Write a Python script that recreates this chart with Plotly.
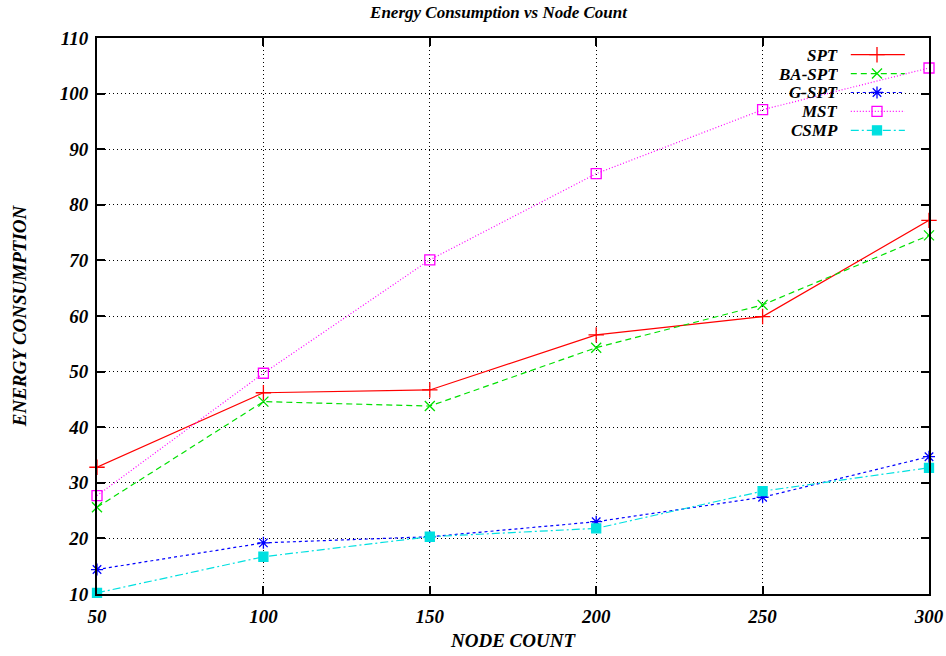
import plotly.graph_objects as go

node_count = [50, 100, 150, 200, 250, 300]
spt = [32.8, 46.2, 46.7, 56.6, 59.9, 77.2]
ba_spt = [25.6, 44.6, 43.8, 54.3, 62.0, 74.5]
g_spt = [14.4, 19.2, 20.3, 23.0, 27.4, 34.7]
mst = [27.7, 49.7, 70.1, 85.6, 97.1, 104.6]
csmp = [10.2, 16.7, 20.3, 21.8, 28.5, 32.7]

series_names = ["SPT", "BA-SPT", "G-SPT", "MST", "CSMP"]
series_values = [spt, ba_spt, g_spt, mst, csmp]
colors = ["#ff0000", "#00e000", "#0000ff", "#ff00ff", "#00e0e0"]
dashes = ["solid", "6px,4px", "3px,3px", "1px,2px", "8px,3px,2px,3px"]
symbols = ["cross-thin-open", "x-thin-open", "asterisk-open", "square-open", "square"]
msizes = [11, 10, 10, 10, 9]

x_ticks = [50, 100, 150, 200, 250, 300]
y_ticks = [10, 20, 30, 40, 50, 60, 70, 80, 90, 100, 110]

FONT = "Liberation Serif"

fig = go.Figure()
for name, vals, c, d, s, ms in zip(series_names, series_values, colors, dashes, symbols, msizes):
    fig.add_trace(go.Scatter(
        x=node_count, y=vals, name=name, mode="lines+markers",
        line=dict(color=c, width=1.2, dash=d),
        marker=dict(symbol=s, size=ms, color=c, line=dict(color=c, width=1.3)),
        cliponaxis=False, showlegend=False,
    ))

# custom gnuplot-style legend (text left, sample right) on an overlay unit axis
leg_y = [0.970, 0.936, 0.902, 0.868, 0.834]
for name, c, d, s, ms, ly in zip(series_names, colors, dashes, symbols, msizes, leg_y):
    fig.add_trace(go.Scatter(
        x=[0.906, 0.971], y=[ly, ly], mode="lines",
        line=dict(color=c, width=1.2, dash=d),
        xaxis="x2", yaxis="y2", showlegend=False, hoverinfo="skip",
    ))
    fig.add_trace(go.Scatter(
        x=[0.9375], y=[ly], mode="markers",
        marker=dict(symbol=s, size=ms, color=c, line=dict(color=c, width=1.3)),
        xaxis="x2", yaxis="y2", showlegend=False, hoverinfo="skip",
    ))
    fig.add_annotation(
        x=0.893, y=ly, xref="x2", yref="y2", text=name, showarrow=False,
        xanchor="right", yanchor="middle", height=18,
        font=dict(family=FONT, size=17, color="black", weight="bold", style="italic"),
    )

axis_common = dict(
    showline=True, linecolor="black", linewidth=2, mirror="ticks",
    ticks="inside", ticklen=8, tickwidth=2, tickcolor="black",
    showgrid=True, gridcolor="black", gridwidth=1, griddash="1px,3px",
    zeroline=False, automargin=False,
    tickfont=dict(family=FONT, size=19, color="black", weight="bold", style="italic"),
)

fig.update_layout(
    width=946, height=656,
    margin=dict(l=97, r=17, t=38, b=62),
    paper_bgcolor="white", plot_bgcolor="white",
    title=dict(
        text="Energy Consumption vs Node Count", x=0.527, xanchor="center",
        y=0.982, yanchor="middle",
        font=dict(family=FONT, size=17, color="black", weight="bold", style="italic"),
    ),
    xaxis=dict(
        range=[50, 300], tickvals=x_ticks, ticklabelstandoff=4, **axis_common,
        title=dict(text="NODE COUNT", standoff=8,
                   font=dict(family=FONT, size=19, color="black", weight="bold", style="italic")),
    ),
    yaxis=dict(
        range=[10, 110], tickvals=y_ticks, ticklabelstandoff=3, **axis_common,
        title=dict(text="ENERGY CONSUMPTION", standoff=28,
                   font=dict(family=FONT, size=19, color="black", weight="bold", style="italic")),
    ),
    xaxis2=dict(range=[0, 1], overlaying="x", visible=False, fixedrange=True),
    yaxis2=dict(range=[0, 1], overlaying="y", visible=False, fixedrange=True),
    showlegend=False,
)

fig.write_html("out.html")
